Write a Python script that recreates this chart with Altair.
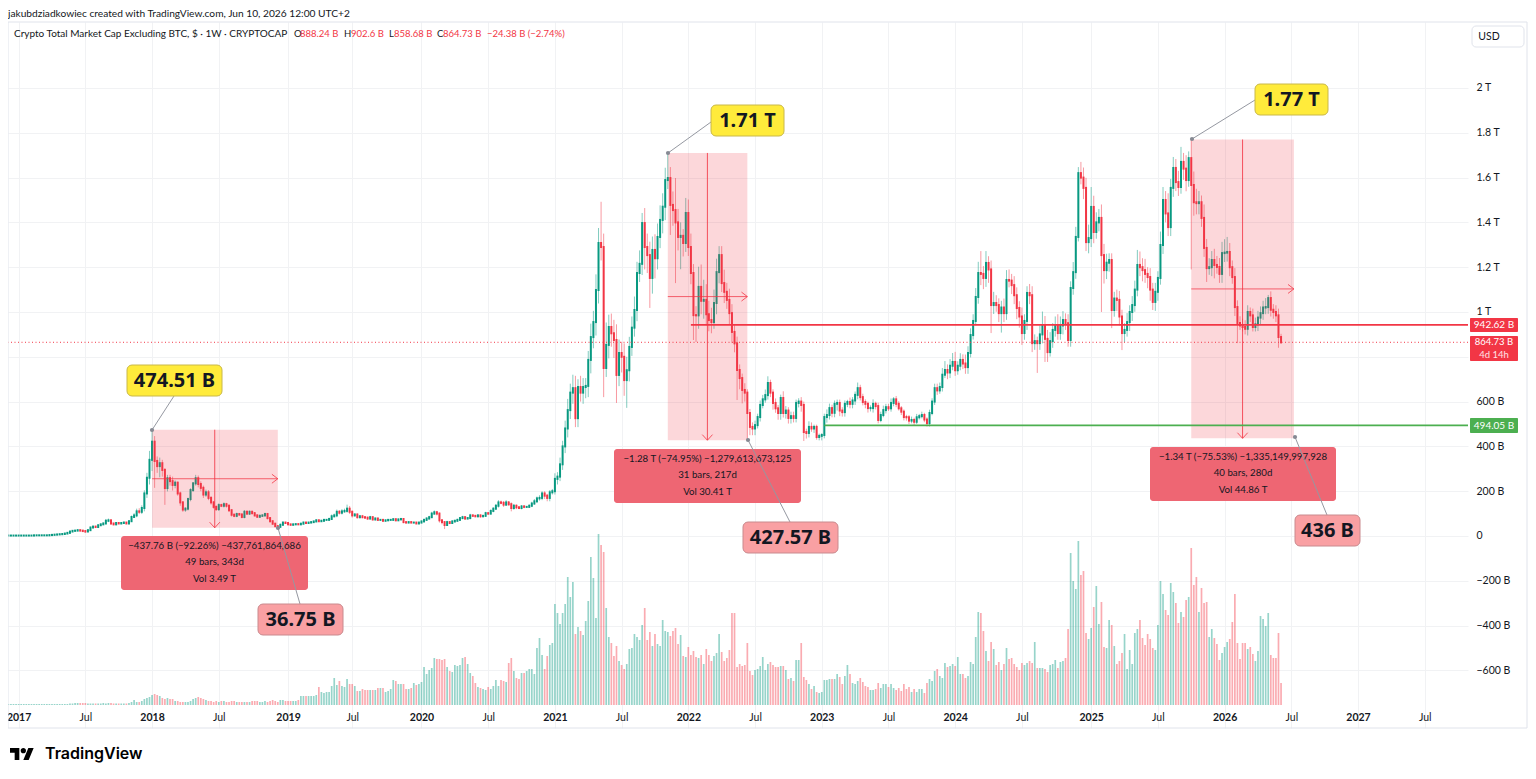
import altair as alt
import pandas as pd

# ---------- data (billions USD, weekly bars) ----------
first_bar = "2016-12-05"
close = [
 2,2,2,2,2,2,2,2,2,2, 3,3,3,3,3,3,4,5,6,7, 8,9,11,14,20,23,24,26,24,22,
 20,26,38,42,40,48,52,56,68,70, 56,52,58,56,58,60,56,66,85,92, 110,108,125,190,260,340,
 421,335,312,325,295,214,258,245,228,238, 190,150,118,122,165,205,235,258,232,215,
 185,195,170,150,130,120,138,135,142,135, 115,95,90,98,96,85,108,100,108,102,
 92,86,90,92,98,80,66,55,44,41, 50,60,58,52,50,52,53,52,55,60,
 58,60,62,65,70,66,68,72,72,76, 88,92,108,104,110,112,122,108,92,96,
 84,88,84,82,78,84,74,78,72,72, 68,70,72,72,75,70,74,76,62,60,
 62,60,60,56,60,65,72,78,84,100, 106,100,70,62,49,62,58,65,68,72,
 80,84,78,80,92,90,88,92,88,90, 102,100,112,122,135,150,148,140,150,142,
 125,135,128,125,132,130,130,135,145,155, 168,170,190,180,170,195,200,255,265,320,
 400,480,562,640,660,526,665,640,665,670, 786,888,955,1098,1308,1290,750,853,933,905,
 875,719,817,800,696,740,844,930,1009,1174, 1215,1397,1290,1254,1152,1277,1240,1335,1411,1470,
 1589,1598,1478,1455,1400,1335,1340,1308,1442,1290, 1174,986,985,1112,1050,1054,990,964,955,1040,
 1178,1254,1129,1090,1054,995,911,860,741,705, 652,640,549,487,480,495,531,585,610,629,
 683,640,594,570,549,616,549,560,527,535, 527,594,600,585,464,460,487,480,487,442,
 447,451,531,540,571,550,590,594,560,553, 590,598,590,605,630,660,620,598,590,571,
 571,590,580,518,540,562,575,570,594,610, 590,570,555,531,530,515,518,510,530,535,
 540,520,504,549,600,660,650,665,720,741, 730,760,777,740,760,786,770,754,817,897,
 960,1067,1174,1170,1152,1219,1190,1031,1040,1031, 995,1020,995,1143,1140,1120,1075,1018,980,906,
 960,1085,1075,861,870,861,900,942,880,821, 870,920,940,906,940,964,950,875,1107,1178,
 1335,1620,1600,1554,1312,1330,1469,1357,1400,1420, 1254,1187,1220,1232,1009,1060,1054,980,906,920,
 955,1000,1031,1100,1210,1200,1187,1170,1156,1100, 1045,1090,1152,1299,1500,1440,1379,1554,1643,1580,
 1558,1670,1640,1589,1687,1567,1490,1486,1490,1420, 1286,1196,1200,1232,1210,1201,1170,1263,1265,1268,
 1200,1156,1022,951,940,933,925,1000,985,933, 945,975,995,1020,1022,1062,1010,1000,985,888.24,
 864.73]
wick_up = [
 0,0,0,0,0,0,0,0,0,0, 0,0,0,0,0,0,0,0,1,1, 1,1,1,1,2,3,3,3,2,2,
 1,2,3,3,3,3,4,4,8,8, 2,2,4,2,3,4,3,4,6,10, 12,14,12,14,22,40,
 53.5,25,20,25,15,8,15,15,20,10, 5,8,6,6,6,8,6,15,12,12,
 10,12,10,8,6,6,8,6,8,6, 6,5,5,6,5,5,8,6,6,5,
 5,5,6,4,6,5,3,3,3,2, 5,4,3,3,2,3,2,2,2,4,
 3,3,3,3,5,4,4,4,4,6, 8,8,10,8,10,10,18,12,6,6,
 5,6,6,4,4,6,4,5,4,3, 3,3,3,4,4,3,4,5,3,2,
 3,3,3,3,3,4,5,5,6,8, 8,6,5,4,4,6,4,5,4,5,
 5,6,5,4,7,4,4,5,4,4, 6,4,6,6,8,10,8,8,10,6,
 8,8,6,6,6,6,4,6,8,10, 8,12,10,10,8,10,10,25,20,30,
 25,35,50,40,60,55,35,50,40,35, 40,60,50,70,67,184,60,100,55,60,
 60,70,60,50,60,60,45,50,60,50, 60,45,67,60,60,60,70,60,65,60,
 55,112,49,60,143,60,60,30,67,60, 60,40,40,90,100,90,70,60,55,60,
 60,40,40,60,40,50,40,30,30,25, 20,30,15,18,20,20,15,20,20,25,
 30,15,15,20,15,15,30,20,15,20, 20,15,15,20,15,15,25,20,10,10,
 10,8,15,25,20,15,15,15,15,15, 15,10,20,15,15,25,15,15,12,10,
 12,20,10,15,15,20,15,15,20,10, 15,12,10,10,10,10,15,10,15,10,
 15,10,10,15,15,20,20,20,30,40, 25,30,40,45,20,30,25,40,30,30,
 30,40,50,98,35,53,30,40,50,35, 30,30,40,44,47,30,40,35,30,40,
 30,30,40,40,30,20,40,60,40,40, 40,30,40,50,40,40,30,40,30,45,
 45,27,50,45,45,60,89,50,45,40, 60,50,40,30,30,30,40,40,30,30,
 40,30,40,40,67,60,40,50,30,40, 30,40,30,60,58,40,90,40,49,40,
 50,67,40,60,30,83,60,60,50,30, 60,40,40,40,50,40,40,50,60,67,
 40,30,40,30,30,30,30,30,20,30, 30,30,30,30,40,14,30,25,30,30,
 14.36]
wick_dn = [
 0,0,0,0,0,0,0,0,0,0, 0,0,0,0,0,0,0,0,0,0, 0,0,0,0,1,1,1,1,2,2,
 6,2,3,4,3,3,3,3,4,6, 6,4,4,3,3,3,3,4,3,4, 8,10,10,15,20,30,
 50,120,30,50,30,75,15,20,25,15, 10,15,10,10,8,10,8,10,15,15,
 15,10,10,10,8,8,8,6,8,8, 8,8,6,6,6,6,6,6,6,6,
 5,5,5,4,5,6,6,5,5,4.25, 3,3,4,3,3,2,2,2,2,3,
 4,3,2,3,3,4,3,3,3,3, 4,5,8,8,8,6,8,10,10,5,
 6,6,5,5,6,5,5,5,5,3, 5,3,3,3,3,4,3,3,5,4,
 3,3,3,3,3,3,3,4,4,4, 5,8,10,10,18,4,5,3,4,4,
 4,5,6,4,5,4,4,5,6,4, 5,6,4,6,6,8,6,10,6,8,
 15,8,8,5,6,6,5,5,6,6, 8,10,10,15,15,15,10,15,25,20,
 25,30,40,40,50,40,40,40,50,50, 50,60,50,60,60,60,130,40,60,60,
 80,125,50,70,70,124,50,40,40,50, 40,50,100,80,134,70,90,50,50,60,
 60,40,134,70,271,60,144,60,40,40, 50,111,119,60,60,80,50,50,50,30,
 50,50,40,50,40,50,50,40,134,50, 60,40,121,37,30,30,15,20,15,15,
 20,20,30,20,30,30,20,25,25,25, 20,20,20,30,40,25,20,15,20,12,
 15,20,15,25,20,20,20,30,25,20, 20,15,20,20,20,20,15,15,20,20,
 15,20,15,15,10,10,15,12,15,15, 15,10,15,15,15,15,12,15,10,10,
 10,12,15,15,10,15,20,15,20,15, 30,25,20,25,20,20,25,30,30,20,
 20,20,30,50,50,40,60,125,40,30, 40,87,40,30,30,40,40,50,50,53,
 30,40,40,40,30,133,30,40,103,44, 20,30,30,30,30,40,30,30,30,30,
 30,20,30,50,40,50,40,50,30,40, 254,60,40,40,81,30,50,40,76,40,
 30,40,40,30,30,40,50,40,50,50, 36,40,40,30,40,40,40,40,40,40,
 40,30,50,50,30,377,60,50,50,40, 40,62,30,40,60,30,40,40,40,40,
 40,30,40,90,20,20,25,30,30,20, 20,30,30,30,30,30,30,30,30,48,
 6.05]
# volume, in units of about 11 B
volume = [
 1,1,1,1,1,1,1,1,1,1, 1,1,1,1,1,1,1,1,1,1, 1,1,1,1,1.5,1.5,2,2,2,2,
 2,1.5,1.5,1.5,1.5,1.5,1.5,2,1.5,2, 2,1.5,1.5,1.5,1.5,1.5,1.5,2,3,5, 3,3,4,6,7,8,
 10,11,10,9,7,6,7,6,6,4, 4,3,3,3,3,4,6,7,8,7, 6,5,4,4,3,4,3,4,4,3, 3,4,4,3,3,3,3,3,3,4,
 4,4,3,3,4,3,4,5,4,3, 5,5,4,4,4,4,4,5,9,9, 9,9,9,9,10,18,13,12,13,13,
 19,27,20,24,19,18,26,21,21,19, 14,14,16,15,15,15,15,15,17,17, 17,13,14,16,25,24,21,21,21,16,
 16,17,22,20,21,23,38,31,35,37, 47,46,46,45,46,38,34,33,40,39, 40,47,48,41,32,29,22,18,17,16,
 15,18,16,19,25,19,25,24,23,42, 47,34,27,26,
 32,32,34,36,36,31,57,67,50,36, 49,60,62,101,92,81,92,101,128,108,
 123,71,78,74,70,84,104,148,127,87, 171,160,153,97,68,62,49,59,44,40,
 36,41,56,57,71,68,65,80,97,65, 73,59,71,61,59,85,74,73,69,74,
 77,61,70,49,48,58,50,54,48,47, 50,41,56,50,44,49,52,71,53,44,
 47,55,92,92,38,41,39,40,62,34, 30,35,36,39,48,35,41,43,40,38,
 38,39,39,35,26,27,24,45,45,62, 28,25,21,16,19,13,12,13,25,25,
 26,26,26,31,28,21,29,40,31,22, 21,24,27,23,19,18,15,15,16,22,
 17,21,21,18,21,17,15,17,14,21, 16,18,13,16,13,16,
 16,12,22,26,24,34,36,29,27,42, 38,39,41,39,48,31,31,27,29,43,
 41,68,93,92,74,54,44,63,56,40, 43,35,41,57,46,47,41,38,35,42,
 40,42,44,42,63,37,37,37,36,33, 40,41,45,37,43,44,47,76,152,124,
 116,164,130,134,72,66,77,98,119,81, 103,58,57,85,80,59,41,44,52,71,
 36,55,41,72,76,85,67,60,71,66, 57,55,80,124,111,95,90,122,113,102,
 82,93,88,105,108,157,120,128,93,117, 102,103,68,76,67,61,45,52,58,63,
 66,83,111,62,46,62,62,56,58,51, 44,54,89,86,79,92,50,47,47,72, 22]

x_ticks = ["2017-01-02","2017-07-03","2018-01-01","2018-07-02","2019-01-07","2019-07-01",
           "2020-01-06","2020-07-06","2021-01-04","2021-07-05","2022-01-03","2022-07-04",
           "2023-01-02","2023-07-03","2024-01-01","2024-07-01","2025-01-06","2025-07-07",
           "2026-01-05","2026-07-06","2027-01-04","2027-07-05"]
y_ticks = [-600,-400,-200,0,200,400,600,800,1000,1200,1400,1600,1800,2000]

# drawdown measures: start date, end date, high, low
measures = pd.DataFrame({
    "start": ["2018-01-01","2021-11-08","2025-10-06"],
    "end":   ["2018-12-10","2022-06-13","2026-07-13"],
    "top":   [474.51,1710,1770],
    "bot":   [36.75,427.57,436],
})
levels = pd.DataFrame({"start":["2022-01-10","2023-01-09"],"end":["2027-10-31","2027-10-31"],
                       "price":[942.62,494.05],"hue":["#F23645","#4CAF50"]})
last_price = 864.73

FONT = "Lato"
RED, GREEN = "#F23645", "#089981"
GRID = "#F1F2F4"
assert len(close)==len(wick_up)==len(wick_dn)==len(volume), (len(close),len(wick_up),len(wick_dn),len(volume))

# ---------- table ----------
dates = pd.date_range(first_bar, periods=len(close), freq="7D")
opens = [close[0]] + close[:-1]
df = pd.DataFrame({"date":dates.strftime("%Y-%m-%d"),"open":opens,"close":close})
df["high"] = df[["open","close"]].max(axis=1) + wick_up
df["low"] = df[["open","close"]].min(axis=1) - wick_dn
df["hue"] = [GREEN if c>=o else RED for o,c in zip(opens,close)]
df["vol"] = volume

ms = lambda d: int(pd.Timestamp(d).timestamp()*1000)
xscale = alt.Scale(type="utc", domain=[ms("2016-12-04"), ms("2027-10-31")])
yscale = alt.Scale(domain=[-857.14,2294.6], nice=False, zero=False)
vscale = alt.Scale(domain=[-23,683], nice=False, zero=False)
xaxis = alt.Axis(values=[ms(d) for d in x_ticks], title=None, grid=True, gridColor=GRID, ticks=False, domain=False,
                 labelPadding=-16, labelBaseline="top", labelFont=FONT, labelFontSize=10.5, labelColor="#131722",
                 labelOverlap=False, labelBound=False, labelFlush=False,
                 labelFontWeight={"condition":{"test":"utcmonth(datum.value)==0","value":700},"value":400},
                 labelExpr="utcmonth(datum.value)==0 ? utcyear(datum.value)+'' : 'Jul'")
yaxis = alt.Axis(values=y_ticks, title=None, orient="right", grid=True, gridColor=GRID, ticks=False, domain=False,
                 labelPadding=8, labelFont=FONT, labelFontSize=10.5, labelColor="#131722", labelOverlap=False,
                 labelExpr="datum.value==800?'':(datum.value==0?'0':(datum.value<0?'\u2212'+abs(datum.value)+' B':(datum.value>=1000?(datum.value/1000)+' T':datum.value+' B')))")
X = lambda f: alt.X(f, type="temporal", scale=xscale, axis=xaxis)
Y = lambda f: alt.Y(f, type="quantitative", scale=yscale, axis=None)
huecolor = alt.Color("hue:N", scale=None, legend=None)

base = alt.Chart(df.head(1)).mark_rule(opacity=0).encode(
    x=X("date"), y=alt.Y("close", type="quantitative", scale=yscale, axis=yaxis))
vol = alt.Chart(df).mark_rule(strokeWidth=1.7, opacity=0.42).encode(
    x=X("date"), y=alt.Y("vol", type="quantitative", scale=vscale, axis=None),
    y2=alt.datum(0), color=huecolor)
wicks = alt.Chart(df).mark_rule(strokeWidth=1, opacity=0.5).encode(x=X("date"), y=Y("high"), y2="low", color=huecolor)
bodies = alt.Chart(df).mark_rule(strokeWidth=2, strokeCap="square").encode(x=X("date"), y=Y("open"), y2="close", color=huecolor)

# ---------- measures ----------
m = measures.copy()
m["mid"] = (m.top+m.bot)/2
m["midd"] = [(pd.Timestamp(a)+(pd.Timestamp(b)-pd.Timestamp(a))/2).strftime("%Y-%m-%d") for a,b in zip(m.start,m.end)]
boxes = alt.Chart(m).mark_rect(color=RED, opacity=0.2).encode(x=X("start"), x2="end", y=Y("top"), y2="bot")
h_arrow = alt.Chart(m).mark_rule(color=RED, strokeWidth=1, opacity=0.75).encode(x=X("start"), x2="end", y=Y("mid"))
v_arrow = alt.Chart(m).mark_rule(color=RED, strokeWidth=1, opacity=0.85).encode(x=X("midd"), y=Y("top"), y2="bot")
legs = []
for r in m.itertuples():
    e, d = pd.Timestamp(r.end), pd.Timestamp(r.midd)
    for s in (1,-1):
        legs.append({"a":(e-pd.Timedelta(days=16)).strftime("%Y-%m-%d"),"b":r.end,"p":r.mid+s*20,"q":r.mid})
        legs.append({"a":(d+pd.Timedelta(days=s*14)).strftime("%Y-%m-%d"),"b":r.midd,"p":r.bot+25,"q":r.bot})
heads = alt.Chart(pd.DataFrame(legs)).mark_rule(color=RED, strokeWidth=1, opacity=0.8).encode(x=X("a"), x2="b", y=Y("p"), y2="q")

lv = alt.Chart(levels).mark_rule(strokeWidth=1.6).encode(x=X("start"), x2="end", y=Y("price"), color=huecolor)
dotted = alt.Chart(pd.DataFrame({"price":[last_price]})).mark_rule(color=RED, strokeWidth=1, strokeDash=[1,2.5]).encode(y=Y("price"))

# ---------- annotation helpers (page pixel positions) ----------
one = pd.DataFrame({"k":[0]})
def txt(s,x,y,size=10.5,color="#131722",align="left",weight=400,font=FONT):
    return alt.Chart(one).mark_text(text=s,fontSize=size,color=color,align=align,baseline="middle",fontWeight=weight,font=font).encode(
        x=alt.value(x-8), y=alt.value(y-22))
def box(x0,y0,x1,y1,fill,stroke=None,r=0,op=1):
    kw = dict(fill=fill,cornerRadius=r,opacity=op)
    if stroke: kw.update(stroke=stroke,strokeWidth=1)
    return alt.Chart(one).mark_rect(**kw).encode(x=alt.value(x0-8),x2=alt.value(x1-8),y=alt.value(y0-22),y2=alt.value(y1-22))
def seg(x0,y0,x1,y1):
    return alt.Chart(one).mark_rule(color="#9598A1",strokeWidth=1).encode(x=alt.value(x0-8),x2=alt.value(x1-8),y=alt.value(y0-22),y2=alt.value(y1-22))
def dot(x,y):
    return alt.Chart(one).mark_point(filled=True,color="#868993",size=18,opacity=1).encode(x=alt.value(x-8),y=alt.value(y-22))

layers = [base, vol, wicks, bodies, boxes, h_arrow, v_arrow, heads, lv, dotted]
for (x0,y0,x1,y1),lines in [
    ((121,536,308,590),["\u2212437.76 B (\u221292.26%) \u2212437,761,864,686","49 bars, 343d","Vol 3.49 T"]),
    ((614,449,801,503),["\u22121.28 T (\u221274.95%) \u22121,279,613,673,125","31 bars, 217d","Vol 30.41 T"]),
    ((1150,447,1336,501),["\u22121.34 T (\u221275.53%) \u22121,335,149,997,928","40 bars, 280d","Vol 44.86 T"]),
]:
    layers.append(box(x0,y0,x1,y1,"#EE6673",None,3))
    for i,s in enumerate(lines):
        layers.append(txt(s,(x0+x1)/2,y0+9.5+16.5*i,size=9.7,align="center"))
CALL = "Noto Sans"
for label,(x0,y0,x1,y1),fill,stroke,(ax,ay,bx,by) in [
    ("474.51 B",(127,365,222,396),"#FFEB3B","#C9B84A",(152,430,174,396)),
    ("1.71 T",(711,105,784,136),"#FFEB3B","#C9B84A",(668,153,711,122)),
    ("1.77 T",(1255,84,1328,115),"#FFEB3B","#C9B84A",(1192,139,1255,100)),
    ("36.75 B",(258,604,343,635),"#F9A0A3","#C98A8E",(278,528,300,604)),
    ("427.57 B",(743,522,838,553),"#F9A0A3","#C98A8E",(748,440,790,522)),
    ("436 B",(1295,515,1360,546),"#F9A0A3","#C98A8E",(1295,437,1327,515)),
]:
    layers += [seg(ax,ay,bx,by), dot(ax,ay), box(x0,y0,x1,y1,fill,stroke,5),
               txt(label,(x0+x1)/2,(y0+y1)/2,size=20,align="center",weight=700,font=CALL)]

# price tags
layers += [
    box(1470,318,1518,332,RED,None,1), txt("942.62 B",1494,325,size=10,color="#FFFFFF",align="center"),
    box(1470,336,1518,361,RED,None,1), txt("864.73 B",1494,342,size=9.5,color="#FFFFFF",align="center"),
    txt("4d 14h",1494,355,size=9.5,color="#FFE3E5",align="center"),
    box(1470,418,1518,433,"#4CAF50",None,1), txt("494.05 B",1494,425.5,size=10,color="#FFFFFF",align="center"),
    box(1472,26,1524,47,"#FFFFFF","#E0E3EB",4), txt("USD",1489,37,size=10.5,color="#131722",align="center" ),
]
# header
layers += [txt("jakubdziadkowiec created with TradingView.com, Jun 10, 2026 12:00 UTC+2",8,14,size=10.2),
           txt("Crypto Total Market Cap Excluding BTC, $ \u00b7 1W \u00b7 CRYPTOCAP",14,34,size=10)]
for s,x,c in [("O",294,"#131722"),("888.24 B",300,RED),("H",344,"#131722"),("902.6 B",351,RED),("L",389,"#131722"),
              ("858.68 B",394,RED),("C",437,"#131722"),("864.73 B",443,RED),("\u221224.38 B (\u22122.74%)",487,RED)]:
    layers.append(txt(s,x,34,size=9.5,color=c))
# frame, logo
layers += [box(8,22,1527,728,"transparent","#E0E3EB",0)]
LOGO = ("M-0.222 0.5H-0.611V-0.111H-1V-0.5H-0.222Z M0.556 0.5H0.111L0.528 -0.5H0.972Z "
        "M-0.111 -0.278a0.222 0.222 0 1 0 0.444 0a0.222 0.222 0 1 0 -0.444 0Z")
layers += [alt.Chart(one).mark_point(shape=LOGO,filled=True,color="#000000",size=576,opacity=1).encode(x=alt.value(22-8),y=alt.value(754-22)),
           txt("TradingView",45,754,size=16,color="#000000",weight=600,font="Inter")]

chart = alt.layer(*layers).resolve_scale(y="independent").properties(
    width=1460, height=706,
    padding={"left":0,"top":14,"right":60,"bottom":37},
    autosize=alt.AutoSizeParams(type="none"),
    background="#FFFFFF",
).configure_view(stroke=None)
chart.save("out.html", embed_options={"renderer":"svg","actions":False})
